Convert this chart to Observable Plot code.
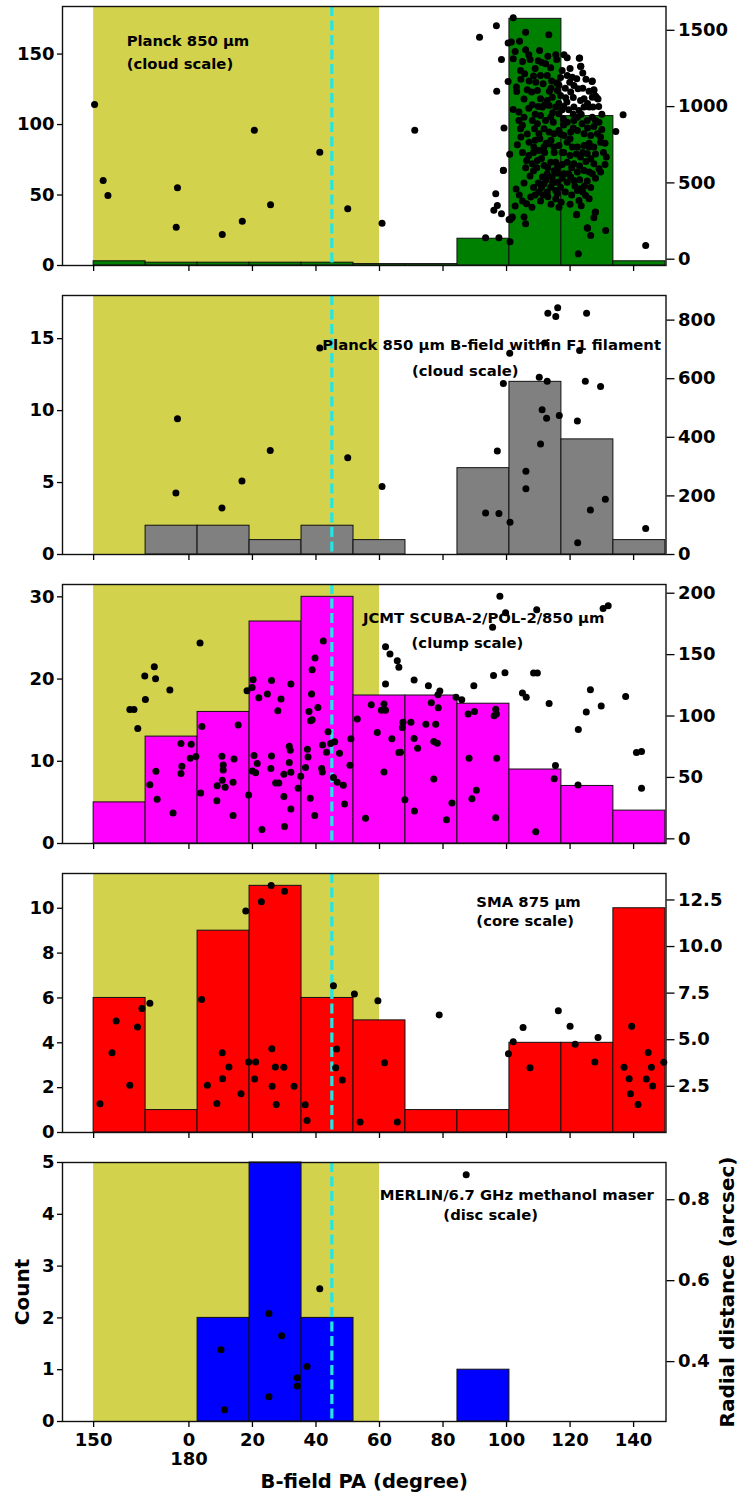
<!DOCTYPE html>
<html><head><meta charset="utf-8">
<script src="https://cdn.jsdelivr.net/npm/d3@7"></script>
<script src="https://cdn.jsdelivr.net/npm/@observablehq/plot@0.6"></script>
<style>body{margin:0;background:#fff;} #chart svg{display:block;}</style>
</head><body><div id="chart"></div>
<script>
// ---------- data ----------
// histogram bins on the wrapped PA axis (150..180 shown as -30..0)
const binStart = -30, binEnd = 150, binCount = 11;
const planckCounts   = [3,2,2,2,2,1,1,19,175,106,3];
const filamentCounts = [0,2,2,1,2,1,0,6,12,8,1];
const jcmtCounts     = [5,13,16,27,30,18,18,17,9,7,4];
const smaCounts      = [6,1,9,11,6,5,1,1,4,4,10];
const merlinCounts   = [0,0,2,5,2,0,0,1,0,0,0];

// scatter points: [B-field PA (deg, 0-180), radial distance (arcsec)]
const planckPts = [
[150.3,1014],[153,516],[154.5,417],[176.4,468],[176,210],[10.5,162],[16.8,249],[20.6,845],[25.7,356],[41.2,701],[50,330],[60.8,236],[71.1,845],
[102.1,1582],[96.8,1530],[91.5,1455],[106,1488],[113.3,1471],[100.5,1416],[101.5,1423],[104.1,1429],[102.7,1361],[106,1372],[110.4,1368],[98.4,1309],[102.1,1313],[105,1296],[107.4,1309],[111.1,1289],[112.3,1281],[113.9,1254],[115.5,1340],[115.8,1309],[118.1,1340],[119.1,1320],[123,1318],[123.3,1263],[104.4,1237],[105.7,1215],[107.1,1167],[109.2,1160],[110.7,1204],[112.8,1204],[114.2,1167],[115.8,1154],[117.5,1237],[119.1,1204],[120.7,1193],[122.1,1182],[119.9,1160],[121.2,1139],[122.5,1117],[127,1167],[127.5,1106],[128.4,1058],[127,1062],[124.4,1051],[123.3,1040],[100.5,1165],[96.9,1101],[103.1,1128],[103.2,1099],[107.9,1095],[109.7,1106],[110.7,1051],[112.8,1040],[114.4,1062],[116,1106],[117,1073],[118.6,1058],[120.2,1095],[108.1,1012],[111.3,997],[113.4,1008],[115.5,997],[117.5,979],[119.6,979],[121.2,997],[122.8,975],[124.4,997],[126,997],[127.2,997],[102.1,981],[103.9,964],[105.5,931],[103.9,909],[105,877],[104.4,855],[99.2,859],[108.1,909],[109.7,887],[110.7,942],[112.3,909],[113.9,931],[114.7,898],[116.5,953],[117.9,920],[119.1,898],[121.2,909],[122.3,931],[123.8,887],[125.4,909],[127,931],[128,909],[129.1,898],[136.7,946],[134.4,837],[108.8,855],[110.2,822],[111.8,855],[113.4,833],[114.9,822],[116.5,844],[118.1,811],[120.2,833],[122.3,844],[124.4,822],[126.5,811],[128.6,822],[129.6,800],[103.4,750],[107.1,767],[108.6,735],[110.2,713],[111.8,735],[113.4,756],[114.9,735],[116.5,745],[119.1,767],[120.7,735],[122.3,735],[124.4,745],[126,735],[127.5,735],[129.6,767],[101,687],[131.4,669],[106.3,647],[108.1,625],[109.7,647],[111.8,614],[113.9,636],[115.5,636],[119.1,636],[121.2,625],[123.3,669],[125.4,691],[126.5,658],[127.5,625],[129.1,593],[129.6,571],[99,582],[107.4,545],[111.3,538],[112.8,560],[114.4,538],[116.2,564],[118.1,560],[120.2,538],[122.3,571],[124.4,582],[126,571],[111.8,494],[113.9,472],[116,505],[119.1,505],[121.2,516],[125.4,512],[123.3,462],[110.2,440],[112.8,440],[115.5,451],[117,472],[122.3,451],[124.9,418],[126,396],[96.6,429],[107.6,407],[110.7,381],[115.5,396],[117.2,374],[122.8,385],[105,381],[106.3,363],[102.7,348],[97.1,352],[96,320],[98.4,298],[101.8,276],[101.1,258],[105.5,276],[106,232],[122.1,293],[128,309],[127.5,272],[125.4,206],[126.5,156],[131.2,188],[93.4,140],[97.6,140],[101.1,114],[122.6,35],[143.8,90],
[122.9,1317],[123.4,1265],[126.9,1164],[127.5,1110],[128,1070],[128.8,1050],[125.5,203],[127.9,306],[122,291],[100.8,260],[101.7,272],[99,583],[118,700],[117,820],[110,1000],[114,1120],[118,880],[112,700],[116,600],[120,680],[114,780],[109,780],[121,860],[117,1190],[109,1250],[124,1220],
[104.5,1180],[106.5,1110],[108.5,1200],[111.5,1150],[113.5,1100],[116.5,1140],[118.5,1120],[121,1060],[124,1120],[125.5,1020],[105.5,1050],[107,990],[109,950],[112,1010],[114.5,960],[116.5,1020],[119,1030],[121,950],[123.5,950],[125.5,860],[127.5,870],[104.5,800],[106.5,820],[108.5,700],[110.5,790],[112.5,760],[115,700],[117.5,700],[120,790],[122,690],[124,700],[126,760],[128,690],[105,700],[107,680],[109.5,600],[111,660],[113,600],[115,580],[117.5,620],[120.5,600],[123,610],[125,640],[127,560],[106,600],[108.5,580],[110,500],[112.5,520],[114.5,500],[117.5,530],[119.5,560],[121.5,480],[123,520],[124.5,480],[126.5,470],[128,530],[108.5,470],[111,470],[113,410],[116,430],[118.5,440],[120.5,420],[124,440],[109,420],[111.5,420],[114,360],[116.5,340],[120,360],[123.5,350],[108,340],[104,420],[103,460],[105.5,500],[118,1000],[120,1250],[110,1300],[113,1330],[107,1340],[125,1180],[126,1100],[129,1000],[130,950],[130,850],[131,760],[130.5,700],[131,620]
];
const filamentPts = [
[41.2,705],[176.4,463],[175.9,210],[10.4,159],[16.7,251],[25.6,355],[50,330],[60.8,232],[93.4,142],[97.6,140],[101.1,110],[97.1,353],[99,584],[101,687],[106.1,284],[106.1,224],[110.7,377],[111.2,494],[112.6,465],[116.6,474],[110.3,605],[112.8,591],[112,722],[113,823],[115.5,812],[116.1,842],[125.2,823],[123,696],[124.8,591],[129.6,573],[122.3,456],[131.1,189],[126.4,152],[122.4,40],[143.8,89]
];
const jcmtPts = [
[161.4,105.4],[162.7,105.4],[163.9,89.9],[166.3,113.5],[166.1,132.6],[169.1,140.2],[169.5,130.4],[174,121.2],[3.5,159.5],[167.7,44.1],[169.6,55],[170,32.2],[175,21],[177.5,77.6],[177.8,59.1],[177.5,53.1],[0.7,77.1],[0.4,65.6],[2.2,67],[4.1,91.5],[3.7,37.3],[8.8,31.1],[8.9,43.3],[10.4,67.3],[10.8,60.2],[10.8,56.1],[10.5,47.7],[11.4,42],[14.2,65.1],[13.9,46.1],[13.9,19.1],[15.5,92.6],[18.8,35.7],[18.3,120.6],[19.9,123.3],[20.2,129.6],[22,114.9],[20.5,67.8],[21.5,61.3],[20,55.3],[21,53.9],[23,7.7],[24.7,117.9],[26,129],[26,67.5],[25.8,57.2],[27.3,45.5],[28.3,45.5],[28,104.3],[29,113.8],[30.1,10.1],[29.9,52.6],[29.9,34.4],[31.6,75.4],[31.9,72.2],[31.6,62.1],[32.1,54.2],[32.1,24.3],[32.1,126],[34.4,41.2],[35.2,51],[36.7,58],[37.3,73],[37.5,66.7],[38.2,33],[39.6,18.9],[38.3,96.1],[38.8,97],[37.8,103.7],[38.6,117.9],[38.8,137.7],[39.7,147.3],[42.3,161.1],[40.6,107],[41.8,57.2],[42,54.5],[42.1,76.5],[43.3,70.5],[43.8,87.1],[44.6,77.6],[45.9,79],[45.5,49.9],[46.7,46.1],[47.4,69.7],[48.6,43.6],[49,28.4],[50.7,60],[51,81.4],[53,97.5],[55.6,16.7],[57.4,109.2],[59.3,86.6],[60.6,104.8],[61.4,109.7],[61.9,104.8],[61.9,126],[61.4,54.5],[61.9,156.5],[63.3,150.5],[65.6,145.1],[66.1,139.7],[63.9,81.4],[66.1,70.3],
[67.4,95],[67.2,90.7],[69.9,95],[66.6,70.5],[68,31.9],[70.9,129.3],[70.9,81.7],[72,73.8],[71,22.6],[74.6,93.4],[75.4,124.7],[76.3,110.8],[77.7,93.4],[78.5,106.7],[77.1,79.2],[78.2,77.9],[77.1,48.8],[78.4,117.3],[79,120.3],[81.1,15.6],[82.8,29.2],[84.1,115.2],[85.9,113.3],[87.9,101.6],[89.9,103.7],[89.7,124.7],[88.2,65.6],[89.1,32.7],[90.5,39.5],[96.1,100.2],[96.6,105.6],[96.8,101.6],[96.9,65.6],[96.6,17.2],[95.6,172.3],[95.9,133.1],[97.9,197.6],[99.5,135.3],[99.7,184],[109.5,186.5],[105,118.7],[106.2,115.2],[108.5,135],[109.7,135],[113.4,110.3],[115.4,59.7],[115,49],[109.2,5.8],[122.6,89],[122.5,43.9],[125.1,103.2],[126.4,121.4],[129.8,108.1],[130.4,187.5],[132,189.7],[137.5,116],[140.9,70.3],[142.5,71.1],[142.5,41.2]
];
const smaPts = [
[152,1.56],[155.8,4.3],[157.1,6.0],[161.4,2.55],[163.8,5.68],[165.2,6.67],[167.7,6.96],[4,7.16],[5.8,2.55],[8.8,1.58],[10.5,4.3],[10.6,2.91],[12.6,3.54],[16.4,2.1],[17.9,11.91],[18.8,3.81],[21,3.81],[20.7,2.89],[22.8,12.41],[25.9,13.28],[30.1,12.97],[26.1,4.51],[27.2,3.54],[29.9,3.52],[26.2,2.5],[27.5,1.52],[33.1,2.5],[36.6,1.51],[37.2,0.66],[45.5,7.9],[46.5,4.5],[46.2,3.49],[48.3,2.84],[52.1,7.45],[53.9,0.59],[59.5,7.09],[61.6,3.76],[65.6,0.59],[78.8,6.33],[100.6,4.24],[102.1,4.89],[105.2,5.66],[107.4,3.49],[116.3,6.55],[120,5.72],[121.6,4.75],[127.8,3.81],[128.8,5.12],[137,3.52],[138.6,2.91],[139,2.1],[139.4,5.72],[141.4,1.52],[144,2.89],[144.6,4.31],[145.6,3.52],[146,2.51],[149.5,3.79]
];
const merlinPts = [
[10.1,0.429],[11.2,0.281],[25.2,0.519],[25.2,0.313],[29.2,0.464],[34.1,0.36],[34.1,0.34],[37.2,0.388],[41.2,0.58],[87.3,0.862]
];

// shaded PA range and reference PA
const bandPA = [150, 60];
const refPA = [45];

// tick labels
const xTickVals = [-30,0,20,40,60,80,100,120,140];
const xTickLabels = ["150","0\n180","20","40","60","80","100","120","140"];

// panel annotations: [x (wrapped PA), y (count), text]
const planckNotes   = [[-19.6,158.9,"Planck 850 µm"],[-19.6,142.6,"(cloud scale)"]];
const filamentNotes = [[95.3,14.54,"Planck 850 µm B-field within F1 filament"],[87.0,12.72,"(cloud scale)"]];
const jcmtNotes     = [[92.8,27.44,"JCMT SCUBA-2/POL-2/850 µm"],[87.7,24.4,"(clump scale)"]];
const smaNotes      = [[90.5,10.26,"SMA 875 µm"],[90.5,9.4,"(core scale)"]];
const merlinNotes   = [[103.2,4.37,"MERLIN/6.7 GHz methanol maser"],[95.0,3.99,"(disc scale)"]];

// ---------- build ----------
const wrapPA = pa => pa >= 150 ? pa - 180 : pa;
const binW = (binEnd - binStart) / binCount;

const panels = [
  {counts: planckCounts, fill: "#008000", pts: planckPts, cMax: 183.75, rDom: [-41.3, 1656], lTicks: [0,50,100,150], rTicks: [0,500,1000,1500], rFmt: d3.format("d"), notes: planckNotes, anchor: "start"},
  {counts: filamentCounts, fill: "#808080", pts: filamentPts, cMax: 18, rDom: [0, 884], lTicks: [0,5,10,15], rTicks: [0,200,400,600,800], rFmt: d3.format("d"), notes: filamentNotes, anchor: "middle"},
  {counts: jcmtCounts, fill: "#ff00ff", pts: jcmtPts, cMax: 31.5, rDom: [-3.8, 207.1], lTicks: [0,10,20,30], rTicks: [0,50,100,150,200], rFmt: d3.format("d"), notes: jcmtNotes, anchor: "middle"},
  {counts: smaCounts, fill: "#ff0000", pts: smaPts, cMax: 11.55, rDom: [0.02, 13.92], lTicks: [0,2,4,6,8,10], rTicks: [2.5,5,7.5,10,12.5], rFmt: d3.format(".1f"), notes: smaNotes, anchor: "start"},
  {counts: merlinCounts, fill: "#0000ff", pts: merlinPts, cMax: 5, rDom: [0.252, 0.892], lTicks: [0,1,2,3,4,5], rTicks: [0.4,0.6,0.8], rFmt: d3.format(".1f"), notes: merlinNotes, anchor: "middle"}
];

const chart = document.getElementById("chart");
const band = [{x1: wrapPA(bandPA[0]), x2: wrapPA(bandPA[1])}];

panels.forEach((p, i) => {
  const last = i === panels.length - 1;
  const H = last ? 343 : 289;
  const toC = r => (r - p.rDom[0]) / (p.rDom[1] - p.rDom[0]) * p.cMax;
  const fromC = c => c / p.cMax * (p.rDom[1] - p.rDom[0]) + p.rDom[0];
  const bins = p.counts.map((c, k) => ({x1: binStart + k * binW, x2: binStart + (k + 1) * binW, c})).filter(d => d.c > 0);
  const marks = [
    Plot.rect(band, {x1: "x1", x2: "x2", fill: "#d3d24d"}),
    Plot.rectY(bins, {x1: "x1", x2: "x2", y: "c", fill: p.fill, stroke: "#111", strokeWidth: 1}),
    Plot.ruleX(refPA, {x: d => wrapPA(d), stroke: "#22e6e6", strokeWidth: 3.2, strokeDasharray: "10,4.5"}),
    Plot.text(p.notes, {x: d => d[0], y: d => d[1], text: d => d[2], textAnchor: p.anchor, fontSize: 14.8, fontWeight: "bold", fill: "black"}),
    Plot.dot(p.pts, {x: d => wrapPA(d[0]), y: d => toC(d[1]), r: 3.5, fill: "black", stroke: "none"}),
    Plot.frame({stroke: "#111", strokeWidth: 1.4}),
    Plot.axisY({anchor: "left", ticks: p.lTicks, tickFormat: d => String(d), tickSize: 5, tickPadding: 3, strokeWidth: 1.3, label: null}),
    Plot.axisY({anchor: "right", ticks: p.rTicks.map(toC), tickFormat: d => p.rFmt(fromC(d)), tickSize: 8, tickPadding: 4, strokeWidth: 1.3, label: null}),
    Plot.axisX({ticks: xTickVals, tickSize: 6, tickPadding: 4, strokeWidth: 1.3, lineHeight: 1.1,
      tickFormat: last ? (d => xTickLabels[xTickVals.indexOf(d)]) : (() => ""), label: null})
  ];
  if (last) {
    marks.push(
      Plot.text(["Count"], {frameAnchor: "left", dx: -40, rotate: -90, textAnchor: "middle", fontSize: 20, fontWeight: "bold", fill: "black"}),
      Plot.text(["Radial distance (arcsec)"], {frameAnchor: "right", dx: 62, rotate: -90, textAnchor: "middle", fontSize: 20, fontWeight: "bold", fill: "black"}),
      Plot.text(["B-field PA (degree)"], {frameAnchor: "bottom", dy: 66, fontSize: 19.5, fontWeight: "bold", fill: "black"})
    );
  }
  const svg = Plot.plot({
    width: 738, height: H,
    marginLeft: 62, marginRight: 72.5, marginTop: 6, marginBottom: H - 6 - 259,
    x: {domain: [-39.8, 150.2], axis: null},
    y: {domain: [0, p.cMax], axis: null},
    style: {fontFamily: "DejaVu Sans", fontWeight: "bold", fontSize: "18px", color: "black", background: "white", overflow: "visible"},
    marks
  });
  chart.appendChild(svg);
});
</script>
</body></html>
